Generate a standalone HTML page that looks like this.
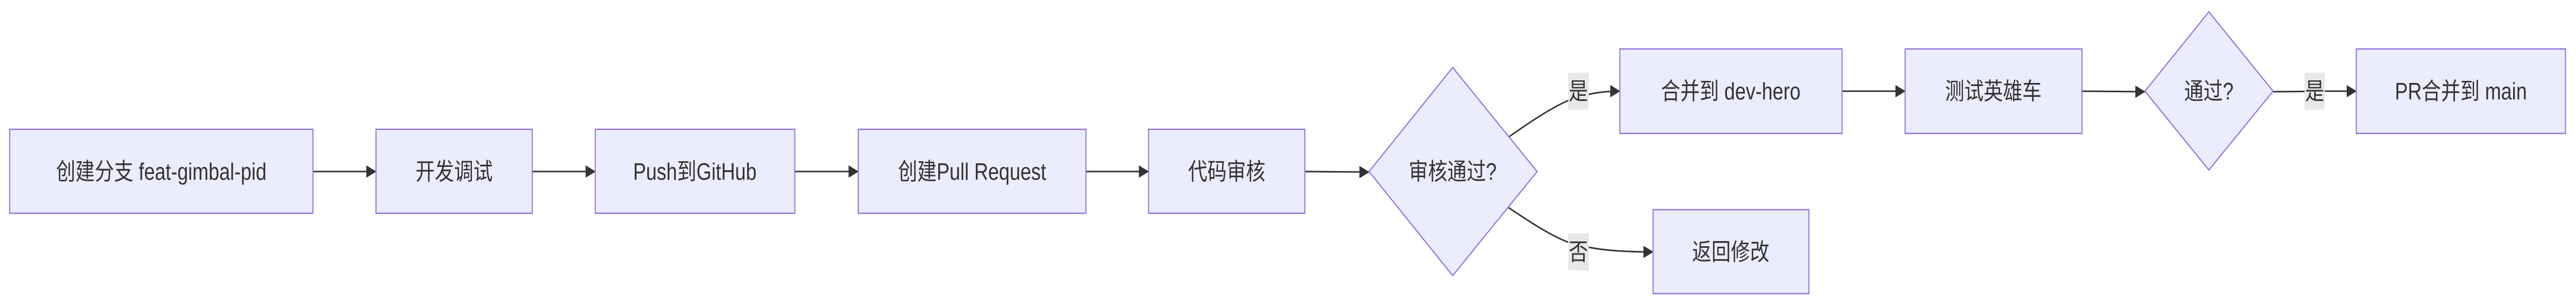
<!DOCTYPE html>
<html><head><meta charset="utf-8"><style>
html,body{margin:0;padding:0;background:#fff;overflow:hidden;width:100vw;height:100vh;}
svg{display:block;width:100vw;height:100vh;}
text{font-family:"Liberation Sans","Noto Sans CJK SC",sans-serif;font-size:46px;fill:#333;}
</style></head><body>
<svg viewBox="0 0 6132 594" preserveAspectRatio="none" xmlns="http://www.w3.org/2000/svg">
<defs>
<marker id="a" markerUnits="userSpaceOnUse" markerWidth="24" markerHeight="24" refX="23" refY="12" orient="auto">
<path d="M0,0 L24,12 L0,24 z" fill="#333"/>
</marker>
</defs>
<g fill="none" stroke="#333" stroke-width="3" marker-end="url(#a)">
<path d="M745,333 L895,333"/>
<path d="M1267,333 L1417,333"/>
<path d="M1892,333 L2043,333"/>
<path d="M2585,333 L2734,333"/>
<path d="M3106,333 C3180,333 3200,334 3259,334"/>
<path d="M3593,265 C3640,238 3700,205 3740,193 C3780,182 3810,177 3856,177"/>
<path d="M3591,403 C3640,430 3700,462 3740,472 C3800,486 3860,489 3935,489"/>
<path d="M4385,177 L4535,177"/>
<path d="M4956,177 C5030,177 5050,178 5106,178"/>
<path d="M5411,178 C5500,177 5540,177 5609,177"/>
</g>
<g fill="#ECECFF" stroke="#9370DB" stroke-width="2.5">
<rect x="23" y="251" width="722" height="163"/>
<rect x="895" y="251" width="372" height="163"/>
<rect x="1417" y="251" width="475" height="163"/>
<rect x="2043" y="251" width="542" height="163"/>
<rect x="2734" y="251" width="372" height="163"/>
<polygon points="3458,131 3659,333 3458,535 3259,333"/>
<rect x="3856" y="95" width="529" height="164"/>
<rect x="4535" y="95" width="421" height="164"/>
<polygon points="5258,23 5411,177 5258,330 5106,177"/>
<rect x="5609" y="95" width="498" height="164"/>
<rect x="3935" y="407" width="371" height="163"/>
</g>
<g fill="#e8e8e8">
<rect x="3733" y="141" width="49" height="72"/>
<rect x="3733" y="453" width="49" height="72"/>
<rect x="5486" y="141" width="48" height="72"/>
</g>
<g text-anchor="middle" dominant-baseline="central">
<text x="384" y="333">创建分支 feat-gimbal-pid</text>
<text x="1081" y="333">开发调试</text>
<text x="1654" y="333">Push到GitHub</text>
<text x="2314" y="333">创建Pull Request</text>
<text x="2920" y="333">代码审核</text>
<text x="3458" y="333">审核通过?</text>
<text x="4120" y="177">合并到 dev-hero</text>
<text x="4745" y="177">测试英雄车</text>
<text x="5258" y="177">通过?</text>
<text x="5858" y="177">PR合并到 main</text>
<text x="4120" y="489">返回修改</text>
<text x="3757" y="177">是</text>
<text x="3757" y="489">否</text>
<text x="5510" y="177">是</text>
</g>
</svg>
</body></html>
